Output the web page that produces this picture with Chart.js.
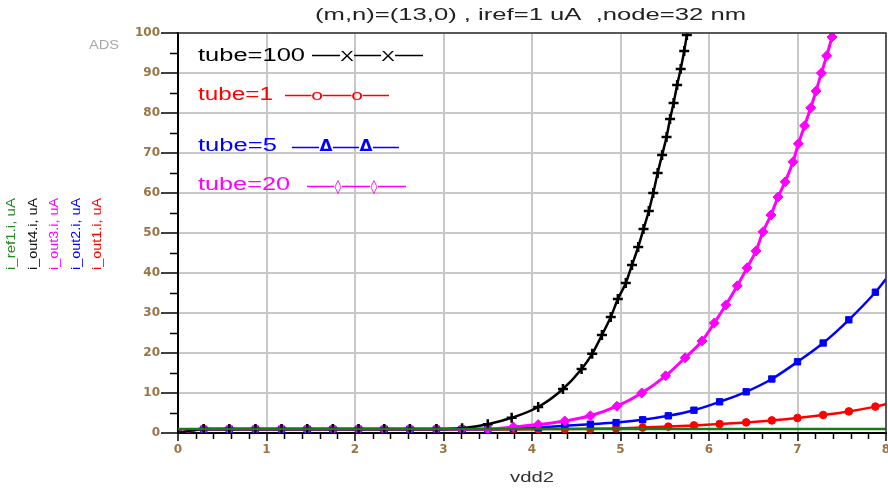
<!DOCTYPE html>
<html>
<head>
<meta charset="utf-8">
<script src="https://cdn.jsdelivr.net/npm/chart.js@4.4.1/dist/chart.umd.min.js"></script>
<style>
  html, body { margin: 0; padding: 0; background: #fff; overflow: hidden; }
  canvas { display: block; }
</style>
</head>
<body>
<canvas id="c" width="888" height="488"></canvas>
<script>
// vdd2 sweep (V) and output currents (uA) of the CNT current mirror, (m,n)=(13,0)
const vddOut1 = [0, 0.29, 0.58, 0.875, 1.17, 1.46, 1.75, 2.04, 2.33, 2.62, 2.92, 3.21, 3.5, 3.79, 4.07, 4.37, 4.66, 4.95, 5.25, 5.54, 5.83, 6.12, 6.42, 6.71, 7.0, 7.29, 7.58, 7.88, 8.0];
const iOut1   = [0, 0.9, 0.9, 0.9, 0.9, 0.9, 0.9, 0.9, 0.9, 0.9, 0.9, 0.9, 0.9, 0.9, 0.95, 1.0, 1.05, 1.15, 1.35, 1.6, 1.9, 2.25, 2.65, 3.15, 3.75, 4.5, 5.4, 6.6, 7.2];

const vddOut2 = [0, 0.29, 0.58, 0.875, 1.17, 1.46, 1.75, 2.04, 2.33, 2.62, 2.92, 3.21, 3.5, 3.79, 4.07, 4.37, 4.66, 4.95, 5.25, 5.54, 5.83, 6.12, 6.42, 6.71, 7.0, 7.29, 7.58, 7.88, 8.0];
const iOut2   = [0, 0.95, 0.95, 0.95, 0.95, 0.95, 0.95, 0.95, 0.95, 0.95, 0.95, 0.95, 0.95, 1.1, 1.4, 1.8, 2.2, 2.6, 3.3, 4.3, 5.7, 7.8, 10.3, 13.5, 17.8, 22.5, 28.3, 35.2, 38.5];

const vddOut3 = [0, 0.29, 0.58, 0.875, 1.17, 1.46, 1.75, 2.04, 2.33, 2.62, 2.92, 3.21, 3.5, 3.79, 4.07, 4.37, 4.66, 4.96, 5.24, 5.51, 5.73, 5.92, 6.06, 6.19, 6.32, 6.43, 6.53, 6.61, 6.70, 6.78, 6.86, 6.95, 7.01, 7.08, 7.15, 7.21, 7.27, 7.33, 7.39, 7.42];
const iOut3   = [0, 1.0, 1.0, 1.0, 1.0, 1.0, 1.0, 1.0, 1.0, 1.0, 1.0, 1.0, 1.0, 1.5, 2.1, 3.0, 4.3, 6.7, 10, 14.3, 18.8, 23, 27.5, 32, 36.8, 41.3, 45.5, 50.3, 54.5, 59, 62.8, 67.8, 72.3, 76.8, 81.3, 85.5, 90, 94.3, 99, 101.5];

const vddOut4 = [0, 0.29, 0.58, 0.875, 1.17, 1.46, 1.75, 2.04, 2.33, 2.62, 2.92, 3.21, 3.5, 3.77, 4.07, 4.35, 4.56, 4.68, 4.79, 4.89, 4.97, 5.06, 5.13, 5.20, 5.26, 5.32, 5.37, 5.42, 5.47, 5.52, 5.56, 5.60, 5.64, 5.68, 5.72, 5.75, 5.77];
const iOut4   = [0, 1.0, 1.0, 1.0, 1.0, 1.0, 1.0, 1.0, 1.0, 1.0, 1.0, 1.2, 2.2, 3.8, 6.5, 11, 16, 19.8, 24.5, 29, 33.5, 37.5, 42, 46.5, 51, 55.5, 60, 65, 69.5, 74, 78.5, 82.5, 87, 91, 95.5, 99.5, 102];

const vddRef = [0, 8];
const iRef1  = [1, 1];

// axis ticks
const xTickValues = [0, 1, 2, 3, 4, 5, 6, 7, 8];
const yTickValues = [0, 10, 20, 30, 40, 50, 60, 70, 80, 90, 100];

// texts
const titleText = '(m,n)=(13,0) , iref=1 uA  ,node=32 nm';
const xTitle = 'vdd2';
const yTitles = ['i_ref1.i, uA', 'i_out4.i, uA', 'i_out3.i, uA', 'i_out2.i, uA', 'i_out1.i, uA'];
const legendLabels = ['tube=100', 'tube=1', 'tube=5', 'tube=20'];
const legendSymbols = ['X', 'o', '\u0394', '\u25CA'];

const toPoints = (xs, ys) => xs.map((x, i) => ({ x, y: ys[i] }));
const lastHidden = (r) => (c) => (c.dataIndex === c.dataset.data.length - 1 ? 0 : r);

const TICK_COLOR = '#9a7444';

// draws text stretched horizontally to a given width
function fitText(ctx, text, x, y, width, font, color, rotate) {
  ctx.save();
  ctx.font = font;
  ctx.fillStyle = color;
  ctx.textAlign = 'left';
  ctx.textBaseline = 'alphabetic';
  const w = ctx.measureText(text).width;
  ctx.translate(x, y);
  if (rotate) ctx.rotate(-Math.PI / 2);
  ctx.scale(width / w, 1);
  ctx.fillText(text, 0, 0);
  ctx.restore();
}

// draws a centred glyph with a horizontal stretch
function glyph(ctx, text, cx, base, font, color, stretch) {
  ctx.save();
  ctx.font = font;
  ctx.fillStyle = color;
  ctx.textAlign = 'center';
  ctx.textBaseline = 'alphabetic';
  ctx.translate(cx, base);
  ctx.scale(stretch, 1);
  ctx.fillText(text, 0, 0);
  ctx.restore();
}

const decor = {
  id: 'decor',
  afterDraw(chart) {
    const ctx = chart.ctx;
    const xs = chart.scales.x, ys = chart.scales.y;
    const a = chart.chartArea;

    // minor ticks
    ctx.save();
    ctx.strokeStyle = '#000';
    ctx.lineWidth = 1.5;
    ctx.beginPath();
    for (let i = 0; i <= 40; i++) {
      if (i % 5 === 0) continue;
      const px = Math.round(xs.getPixelForValue(i * 0.2)) + 0.5;
      ctx.moveTo(px, a.bottom);
      ctx.lineTo(px, a.bottom + 6);
    }
    for (let v = 5; v < 100; v += 10) {
      const py = Math.round(ys.getPixelForValue(v)) + 0.5;
      ctx.moveTo(a.left - 8, py);
      ctx.lineTo(a.left, py);
    }
    ctx.stroke();

    // frame top and right
    ctx.strokeStyle = '#333';
    ctx.lineWidth = 1.5;
    ctx.beginPath();
    ctx.moveTo(a.left, a.top);
    ctx.lineTo(a.right, a.top);
    ctx.lineTo(a.right, a.bottom);
    ctx.stroke();
    ctx.restore();

    // title, ADS mark, x-axis title
    fitText(ctx, titleText, 315, 20, 431, '16px "Liberation Sans"', '#222');
    fitText(ctx, 'ADS', 89, 49, 30, '12px "Liberation Sans"', '#a8a8a8');
    fitText(ctx, xTitle, 510, 482, 44, '15px "Liberation Sans"', '#333');

    // rotated y-axis titles
    const yCols = [15, 37, 58, 80, 101];
    const yColors = ['#1f8a1f', '#111', '#ff00ff', '#0000ff', '#ff0000'];
    yTitles.forEach((t, i) => fitText(ctx, t, yCols[i], 270, 72, '12px "Liberation Sans"', yColors[i], true));

    // in-plot legend
    const rows = [
      { base: 61, w: 107, color: '#000', lx0: 312, lx1: 423, ly: 55, sx: [347, 388], sfont: '14px "Liberation Sans"', sbase: 60.5, st: 1.45, gap: 14 },
      { base: 100, w: 75, color: '#ff0000', lx0: 285, lx1: 389, ly: 95, sx: [317, 357], sfont: '15px "Liberation Sans"', sbase: 100, st: 1.4, gap: 11 },
      { base: 151, w: 79, color: '#0000ff', lx0: 292, lx1: 399, ly: 147, sx: [326, 366], sfont: 'bold 16px "DejaVu Sans"', sbase: 151, st: 1.05, gap: 14 },
      { base: 190, w: 92, color: '#ff00ff', lx0: 307, lx1: 406, ly: 186, sx: [338, 374], sfont: '14px "DejaVu Sans"', sbase: 191, st: 1.0, gap: 8 }
    ];
    rows.forEach((r, i) => {
      fitText(ctx, legendLabels[i], 198, r.base, r.w, '18px "Liberation Sans"', r.color);
      ctx.save();
      ctx.strokeStyle = r.color;
      ctx.lineWidth = 1.5;
      ctx.beginPath();
      let x0 = r.lx0;
      r.sx.forEach((sx) => {
        ctx.moveTo(x0, r.ly + 0.5);
        ctx.lineTo(sx - r.gap / 2, r.ly + 0.5);
        x0 = sx + r.gap / 2;
      });
      ctx.moveTo(x0, r.ly + 0.5);
      ctx.lineTo(r.lx1, r.ly + 0.5);
      ctx.stroke();
      ctx.restore();
      r.sx.forEach((sx) => glyph(ctx, legendSymbols[i], sx, r.sbase, r.sfont, r.color, r.st));
    });
  }
};

// keeps the plot box fixed: labels at the ends must not shrink it
function noEdgePadding(s) {
  s.paddingLeft = 0; s.paddingRight = 0; s.paddingTop = 0; s.paddingBottom = 0;
  if (s._margins) { s._margins.left = 0; s._margins.right = 0; s._margins.top = 0; s._margins.bottom = 0; }
}

new Chart(document.getElementById('c'), {
  type: 'line',
  data: {
    datasets: [
      {
        label: 'i_ref1.i', data: toPoints(vddRef, iRef1),
        borderColor: '#1a7a1a', borderWidth: 2.5, pointRadius: 0, order: 0
      },
      {
        label: 'i_out4.i', data: toPoints(vddOut4, iOut4),
        borderColor: '#000', backgroundColor: '#000', borderWidth: 2.5,
        pointStyle: 'cross', pointRadius: lastHidden(5), pointBorderWidth: 2.5,
        cubicInterpolationMode: 'monotone', order: 1
      },
      {
        label: 'i_out3.i', data: toPoints(vddOut3, iOut3),
        borderColor: '#ff00ff', backgroundColor: '#ff00ff', borderWidth: 3,
        pointStyle: 'rectRot', pointRadius: lastHidden(5), pointBorderWidth: 1,
        cubicInterpolationMode: 'monotone', order: 2
      },
      {
        label: 'i_out2.i', data: toPoints(vddOut2, iOut2),
        borderColor: '#0000ff', backgroundColor: '#0000ff', borderWidth: 2.5,
        pointStyle: 'rect', pointRadius: lastHidden(4.5), pointBorderWidth: 1,
        cubicInterpolationMode: 'monotone', order: 3
      },
      {
        label: 'i_out1.i', data: toPoints(vddOut1, iOut1),
        borderColor: '#ff0000', backgroundColor: '#ff0000', borderWidth: 2.5,
        pointStyle: 'circle', pointRadius: lastHidden(3.8), pointBorderWidth: 1,
        cubicInterpolationMode: 'monotone', order: 4
      }
    ]
  },
  options: {
    responsive: false,
    animation: false,
    events: [],
    layout: { autoPadding: false, padding: { left: 0, right: 2, top: 33, bottom: 0 } },
    plugins: { legend: { display: false }, tooltip: { enabled: false }, title: { display: false } },
    scales: {
      x: {
        type: 'linear', min: 0, max: 8,
        afterBuildTicks: (s) => { s.ticks = xTickValues.map((v) => ({ value: v })); },
        afterFit: (s) => { s.height = 55; noEdgePadding(s); },
        grid: { color: '#c8c8c8', lineWidth: 2, drawTicks: true, tickLength: 8, tickColor: '#000', tickWidth: 1.5 },
        border: { display: true, color: '#000', width: 2 },
        ticks: {
          color: TICK_COLOR, padding: 2, maxRotation: 0, autoSkip: false,
          font: { family: 'DejaVu Sans', size: 12, weight: 'bold' },
          callback: (v) => String(v)
        }
      },
      y: {
        type: 'linear', min: 0, max: 100,
        afterBuildTicks: (s) => { s.ticks = yTickValues.map((v) => ({ value: v })); },
        afterFit: (s) => { s.width = 178; noEdgePadding(s); },
        grid: { color: '#c8c8c8', lineWidth: 2, drawTicks: true, tickLength: 17, tickColor: '#000', tickWidth: 1.5 },
        border: { display: true, color: '#000', width: 2 },
        ticks: {
          color: TICK_COLOR, padding: 1, autoSkip: false,
          font: { family: 'DejaVu Sans', size: 12, weight: 'bold' },
          callback: (v) => String(v)
        }
      }
    }
  },
  plugins: [decor]
});
</script>
</body>
</html>
